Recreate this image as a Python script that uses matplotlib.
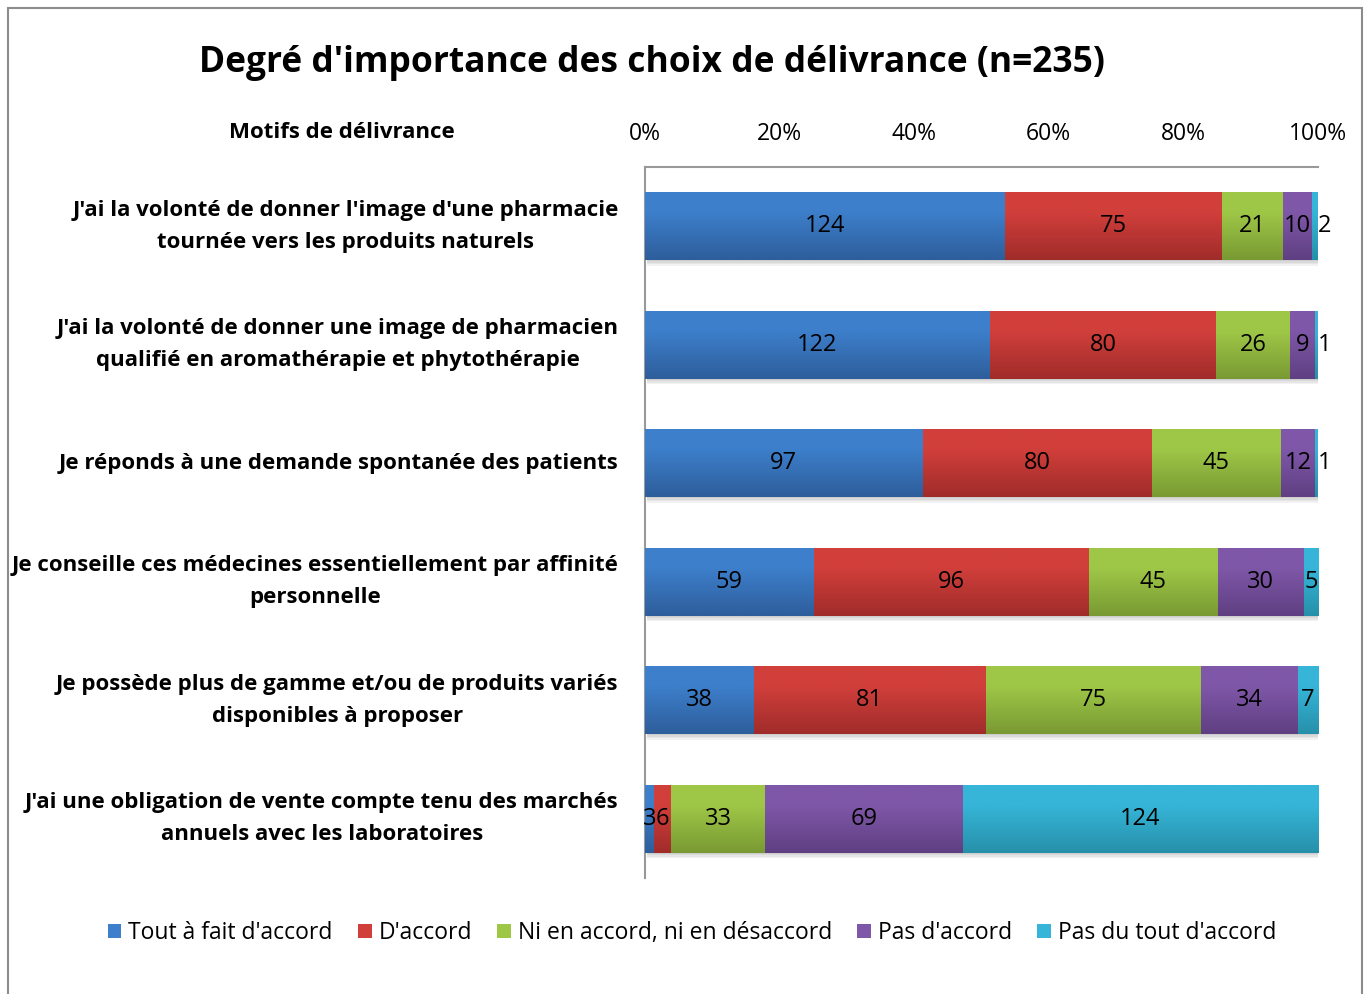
import matplotlib
matplotlib.use("Agg")
import matplotlib.pyplot as plt
import numpy as np
from matplotlib.patches import Rectangle
from matplotlib.colors import to_rgb

plt.rcParams['font.family'] = ['Open Sans', 'DejaVu Sans']

categories = [
    "J'ai la volonté de donner l'image d'une pharmacie\ntournée vers les produits naturels",
    "J'ai la volonté de donner une image de pharmacien\nqualifié en aromathérapie et phytothérapie",
    "Je réponds à une demande spontanée des patients",
    "Je conseille ces médecines essentiellement par affinité\npersonnelle",
    "Je possède plus de gamme et/ou de produits variés\ndisponibles à proposer",
    "J'ai une obligation de vente compte tenu des marchés\nannuels avec les laboratoires",
]
series_names = ["Tout à fait d'accord", "D'accord", "Ni en accord, ni en désaccord",
                "Pas d'accord", "Pas du tout d'accord"]
tout_a_fait = [124, 122, 97, 59, 38, 3]
d_accord = [75, 80, 80, 96, 81, 6]
ni_ni = [21, 26, 45, 45, 75, 33]
pas_d_accord = [10, 9, 12, 30, 34, 69]
pas_du_tout = [2, 1, 1, 5, 7, 124]
tick_labels = ["0%", "20%", "40%", "60%", "80%", "100%"]

top_colors = ["#3d7fcb", "#d13f3b", "#9fc747", "#7f57a8", "#36b5d8"]
bot_colors = ["#2e5e9c", "#a02c2a", "#799a33", "#5f3f82", "#2690aa"]

W, H = 1370, 994
fig = plt.figure(figsize=(W / 100, H / 100), dpi=100)
ax = fig.add_axes([645 / W, 1 - 878 / H, 673 / W, (878 - 167) / H])

data = np.array([tout_a_fait, d_accord, ni_ni, pas_d_accord, pas_du_tout], dtype=float)
totals = data.sum(axis=0)
pct = data / totals * 100
n = len(categories)
y = np.arange(n)
bh = 0.574

# shadows
for i in range(n):
    for k in range(4):
        ax.add_patch(Rectangle((0.3, y[i] - bh / 2 + 0.01 + k * 0.012), 100.2, bh,
                               facecolor="#000000", alpha=0.05, edgecolor="none", zorder=1))

left = np.zeros(n)
for s in range(5):
    bars = ax.barh(y, pct[s], left=left, height=bh, color=top_colors[s],
                   edgecolor="none", label=series_names[s], zorder=2)
    c1 = np.array(to_rgb(top_colors[s]))
    c2 = np.array(to_rgb(bot_colors[s]))
    t = np.linspace(0, 1, 64)
    w = np.clip((t - 0.3) / 0.7, 0, 1)[:, None]
    grad = (c1 * (1 - w) + c2 * w)[:, None, :]
    for i, b in enumerate(bars):
        x0, y0 = b.get_x(), b.get_y()
        im = ax.imshow(grad, extent=(x0, x0 + b.get_width(), y0 + b.get_height(), y0),
                       aspect="auto", origin="upper", zorder=3, interpolation="bilinear")
        im.set_clip_path(b)
        if s == 4 and pct[s][i] < 1.0:
            ax.text(x0 + b.get_width(), y[i], f"{int(data[s][i])}",
                    ha="left", va="center", fontsize=17, color="black", zorder=5)
        else:
            ax.text(x0 + b.get_width() / 2, y[i], f"{int(data[s][i])}",
                    ha="center", va="center", fontsize=17, color="black", zorder=5)
    left += pct[s]

ax.set_xlim(0, 100)
ax.set_ylim(n - 0.5, -0.5)
ax.xaxis.tick_top()
ax.set_xticks(np.linspace(0, 100, 6))
ax.set_xticklabels(tick_labels, fontsize=16.5)
ax.tick_params(axis="x", length=0, pad=15)
ax.set_yticks(y)
ax.set_yticklabels(categories, fontsize=16, fontweight="bold", linespacing=1.7)
ax.tick_params(axis="y", length=0, pad=19)
for lbl in ax.get_yticklabels():
    lbl.set_horizontalalignment("right")
    lbl.set_multialignment("center")
    lbl.set_verticalalignment("center")
for sp in ["right", "bottom"]:
    ax.spines[sp].set_visible(False)
for sp in ["left", "top"]:
    ax.spines[sp].set_color("#999999")
    ax.spines[sp].set_linewidth(1.5)

fig.text(652 / W, 1 - 63 / H, "Degré d'importance des choix de délivrance (n=235)",
         ha="center", va="center", fontsize=25.5, fontweight="bold")
fig.text(342 / W, 1 - 132 / H, "Motifs de délivrance", ha="center", va="center",
         fontsize=16, fontweight="bold")

handles, labels = ax.get_legend_handles_labels()
leg = fig.legend(handles, labels, loc="center", bbox_to_anchor=(692 / W, 1 - 933 / H),
                 ncol=5, frameon=False, fontsize=16.5, handlelength=0.6, handleheight=0.6,
                 handletextpad=0.3, columnspacing=1.1)

fig.add_artist(Rectangle((8 / W, -0.01), (1362 - 8) / W, 1 - 8 / H + 0.01,
                         transform=fig.transFigure, fill=False, edgecolor="#8c8c8c", lw=1.5))

fig.savefig("out.png", dpi=100)
